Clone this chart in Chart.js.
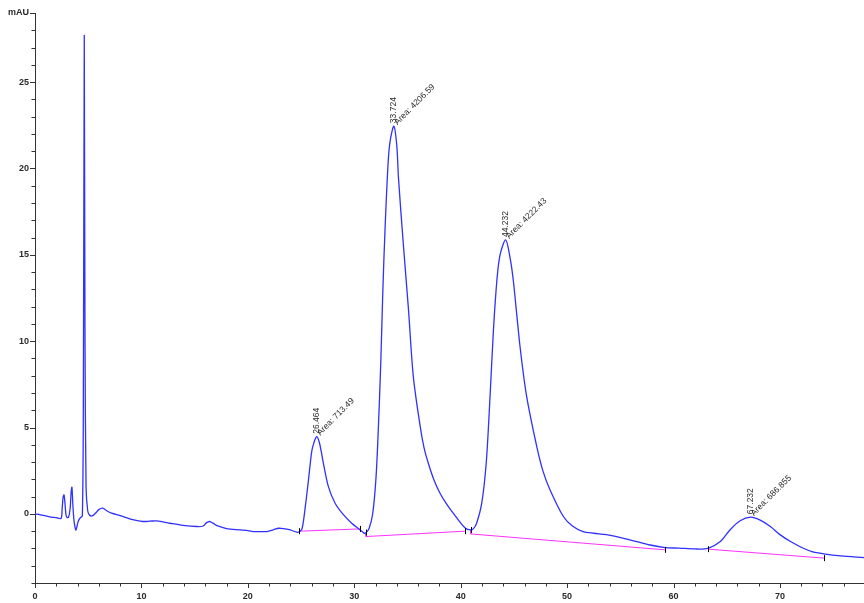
<!DOCTYPE html>
<html>
<head>
<meta charset="utf-8">
<script src="https://cdn.jsdelivr.net/npm/chart.js@4.4.1/dist/chart.umd.min.js"></script>
<style>
  html, body { margin: 0; padding: 0; background: #fff; }
  #wrap { width: 864px; height: 603px; position: relative; }
</style>
</head>
<body>
<div id="wrap"><canvas id="chrom" width="864" height="603"></canvas></div>
<script>
// Detector trace: retention time (min) and absorbance (mAU)
const timeMin = [
  0, 0.5, 1.0, 1.5, 2.0, 2.45, 2.55, 2.65, 2.73, 2.82, 2.9, 3.0, 3.15, 3.3, 3.4, 3.47,
  3.55, 3.65, 3.77, 3.85, 3.95, 4.05, 4.23, 4.45, 4.55, 4.63, 4.7, 4.8, 4.95, 5.1, 5.36,
  5.7, 6.0, 6.36, 6.7, 7.2, 8.0, 8.9, 9.5, 10.15, 10.8, 11.4, 12.1, 12.7, 13.9, 15.2,
  15.8, 16.1, 16.4, 16.75, 17.1, 18.0, 19.3, 20.1, 20.5, 21.8, 22.4, 22.9, 23.5, 24.0,
  24.6, 24.85, 25.1, 25.4, 25.7, 26.0, 26.2, 26.464, 26.7, 26.9, 27.1, 27.57, 28.2,
  29.0, 29.76, 30.55, 30.85, 31.05, 31.4, 31.74, 32.05, 32.27, 32.5, 32.68, 32.9, 33.2,
  33.4, 33.724, 34.0, 34.15, 34.6, 35.1, 35.55, 36.2, 36.55, 36.96, 37.5, 38.06, 38.7,
  39.3, 39.9, 40.4, 40.9,
  41.2, 41.5, 41.98, 42.4, 42.76, 43.08, 43.4, 43.7, 44.232, 44.65, 44.95, 45.58, 46.2,
  47.15, 47.75, 48.4, 49.65, 50.5, 51.5, 52.5, 53.7, 55.9, 57.8, 59.2, 60.5, 62.0, 63.25, 64.4,
  65.3, 66.26, 67.232, 68.1, 69.1, 70.0, 71.0, 72.2, 73.1, 74.1, 75.7, 77.9
];
const signalMAU = [
  0.0, -0.05, -0.12, -0.18, -0.22, -0.26, 0.3, 1.0, 1.1, 0.6, 0.0, -0.2, -0.2, 0.3, 1.3, 1.55,
  0.6, -0.3, -0.8, -0.93, -0.7, -0.45, -0.25, -0.1, 8.0, 27.7, 10.0, 1.5, 0.2, -0.05, -0.12,
  0.05, 0.25, 0.33, 0.2, 0.04, -0.1, -0.29, -0.38, -0.44, -0.42, -0.4, -0.47, -0.54, -0.66, -0.73,
  -0.7, -0.52, -0.44, -0.55, -0.68, -0.85, -0.93, -0.98, -1.02, -1.02, -0.92, -0.83, -0.87, -0.93,
  -1.06, -1.03, -0.85, 0.42, 1.97, 3.6, 4.1, 4.47, 4.18, 3.6, 2.93, 1.58, 0.62,
  -0.06, -0.54, -0.93, -1.08, -1.12, -0.83, 0.04, 2.16, 5.05, 8.9, 12.8, 16.6, 20.5,
  21.7, 22.45, 21.3, 19.5, 15.7, 11.8, 7.95, 5.05, 3.85, 2.93, 1.95, 1.2, 0.55,
  0.04, -0.45, -0.8, -0.93,
  -0.85, -0.54, 0.62, 2.93, 6.8, 10.65, 13.5, 15.0, 15.86, 14.8, 13.5, 9.68, 6.8,
  3.9, 2.45, 1.39, -0.15, -0.7, -1.02, -1.12, -1.2, -1.5, -1.8, -1.95, -1.98, -2.03, -1.99, -1.6,
  -0.93, -0.4, -0.19, -0.35, -0.73, -1.2, -1.6, -1.99, -2.2, -2.31, -2.43, -2.53
];

// Integration baselines; a null entry starts a new segment
const baselineTime = [24.85, 30.5, null, 31.1, 31.1, 40.4, null, 40.95, 40.95, 59.2, null, 63.25, 74.15];
const baselineMAU  = [-1.0, -0.87, null, -1.08, -1.31, -1.0, null, -0.93, -1.16, -2.08, null, -2.04, -2.56];

// Integrated peaks: retention time and area
const peakTimes = [26.464, 33.724, 44.232, 67.232];
const peakAreas = [713.49, 4206.59, 4222.43, 686.855];

// Axis labelling
const xTickLabels = [0, 10, 20, 30, 40, 50, 60, 70];
const yTickLabels = [0, 5, 10, 15, 20, 25];
const yUnitValue = 29;
const yUnitLabel = 'mAU';

const traceData = timeMin.map((t, i) => ({ x: t, y: signalMAU[i] }));
const baselineData = [];
let lastT = 0;
baselineTime.forEach((t, i) => {
  if (t === null) { baselineData.push({ x: lastT, y: null }); }
  else { baselineData.push({ x: t, y: baselineMAU[i] }); lastT = t; }
});

// Segment end points get a short vertical marker
const segmentEnds = [];
let seg = [];
baselineTime.forEach((t, i) => {
  if (t === null) { if (seg.length) segmentEnds.push(seg[0], seg[seg.length - 1]); seg = []; }
  else seg.push({ x: t, y: baselineMAU[i] });
});
if (seg.length) segmentEnds.push(seg[0], seg[seg.length - 1]);

const AXIS_COLOR = '#333333';
const TEXT_COLOR = '#2a2a2a';
const FONT_FAMILY = '"Liberation Sans", Arial, sans-serif';

const decorations = {
  id: 'decorations',
  afterDraw(chart) {
    const { ctx, chartArea: a } = chart;
    const xs = chart.scales.x, ys = chart.scales.y;
    ctx.save();

    // axis tick marks, long for labelled values
    ctx.strokeStyle = AXIS_COLOR;
    ctx.lineWidth = 1;
    ctx.beginPath();
    xs.ticks.forEach(tk => {
      const px = Math.round(xs.getPixelForValue(tk.value)) + 0.5;
      const len = xTickLabels.includes(tk.value) ? 5 : 3.5;
      ctx.moveTo(px, a.bottom);
      ctx.lineTo(px, a.bottom + len);
    });
    ys.ticks.forEach(tk => {
      const py = Math.round(ys.getPixelForValue(tk.value)) + 0.5;
      const len = (yTickLabels.includes(tk.value) || tk.value === yUnitValue) ? 5 : 3.5;
      ctx.moveTo(a.left, py);
      ctx.lineTo(a.left - len, py);
    });
    ctx.stroke();

    // baseline segment markers
    ctx.strokeStyle = '#000';
    ctx.beginPath();
    segmentEnds.forEach(p => {
      const px = Math.round(xs.getPixelForValue(p.x)) + 0.5;
      const py = ys.getPixelForValue(p.y);
      ctx.moveTo(px, py - 3);
      ctx.lineTo(px, py + 3);
    });
    ctx.stroke();

    // peak annotations: retention time (vertical) and area (diagonal)
    ctx.fillStyle = TEXT_COLOR;
    ctx.font = '8.5px ' + FONT_FAMILY;
    peakTimes.forEach((t, i) => {
      const idx = timeMin.indexOf(t);
      const px = xs.getPixelForValue(t);
      const py = ys.getPixelForValue(signalMAU[idx]);
      ctx.save();
      ctx.translate(px, py - 3);
      ctx.rotate(-Math.PI / 2);
      ctx.textAlign = 'left';
      ctx.textBaseline = 'middle';
      ctx.fillText(String(t), 0, 0);
      ctx.restore();

      ctx.save();
      ctx.translate(px + 3.5, py - 1);
      ctx.rotate(-Math.PI / 4);
      ctx.textAlign = 'left';
      ctx.textBaseline = 'alphabetic';
      ctx.fillText('Area: ' + String(peakAreas[i]), 0, 0);
      ctx.restore();
    });
    ctx.restore();
  }
};

new Chart(document.getElementById('chrom'), {
  type: 'line',
  data: {
    datasets: [
      {
        data: traceData,
        borderColor: '#3030ff',
        borderWidth: 1.3,
        pointRadius: 0,
        tension: 0.3,
        fill: false
      },
      {
        data: baselineData,
        borderColor: '#ff30ff',
        borderWidth: 1,
        pointRadius: 0,
        tension: 0,
        spanGaps: false,
        fill: false
      }
    ]
  },
  options: {
    responsive: false,
    animation: false,
    devicePixelRatio: 1,
    layout: { padding: { top: 13, right: 0, bottom: 0, left: 0 } },
    plugins: { legend: { display: false }, tooltip: { enabled: false } },
    scales: {
      x: {
        type: 'linear',
        min: 0,
        max: 77.9,
        afterFit: s => { s.height = 20; },
        grid: { display: false, drawTicks: true, tickLength: 5 },
        border: { display: true, color: AXIS_COLOR, width: 1 },
        ticks: {
          stepSize: 2,
          includeBounds: false,
          autoSkip: false,
          maxRotation: 0,
          padding: 3,
          color: TEXT_COLOR,
          font: { family: FONT_FAMILY, size: 9, weight: 'bold' },
          callback: v => xTickLabels.includes(v) ? String(v) : ''
        }
      },
      y: {
        min: -4,
        max: 29,
        afterFit: s => { s.width = 35; },
        grid: { display: false, drawTicks: true, tickLength: 5 },
        border: { display: true, color: AXIS_COLOR, width: 1 },
        ticks: {
          stepSize: 1,
          includeBounds: false,
          autoSkip: false,
          padding: 1,
          color: TEXT_COLOR,
          font: { family: FONT_FAMILY, size: 9, weight: 'bold' },
          callback: v => v === yUnitValue ? yUnitLabel : (yTickLabels.includes(v) ? String(v) : '')
        }
      }
    }
  },
  plugins: [decorations]
});
</script>
</body>
</html>
